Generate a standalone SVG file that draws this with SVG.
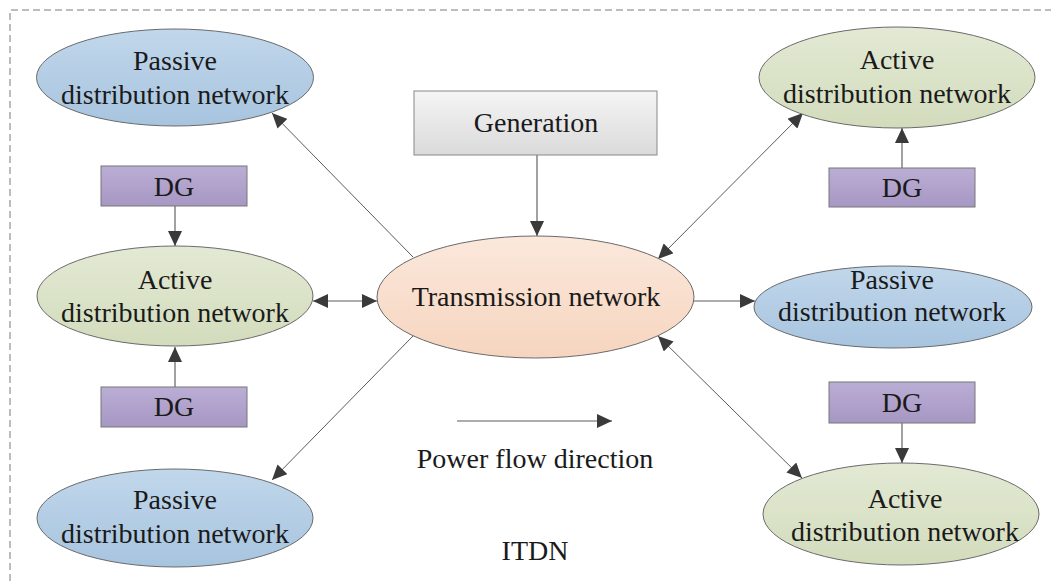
<svg xmlns="http://www.w3.org/2000/svg" width="1051" height="581" viewBox="0 0 1051 581">
<defs>
<linearGradient id="gPassive" x1="0" y1="0" x2="0" y2="1"><stop offset="0" stop-color="#c1d7eb"/><stop offset="1" stop-color="#a7c4df"/></linearGradient>
<linearGradient id="gActive" x1="0" y1="0" x2="0" y2="1"><stop offset="0" stop-color="#e3e9d4"/><stop offset="1" stop-color="#d2dcbc"/></linearGradient>
<linearGradient id="gTrans" x1="0" y1="0" x2="0" y2="1"><stop offset="0" stop-color="#fbe8dc"/><stop offset="1" stop-color="#f6d5bf"/></linearGradient>
<linearGradient id="gDG" x1="0" y1="0" x2="0" y2="1"><stop offset="0" stop-color="#bbaed5"/><stop offset="1" stop-color="#a697c3"/></linearGradient>
<linearGradient id="gGen" x1="0" y1="0" x2="0" y2="1"><stop offset="0" stop-color="#f5f5f5"/><stop offset="1" stop-color="#dadada"/></linearGradient>
<marker id="ah" markerUnits="userSpaceOnUse" markerWidth="15" markerHeight="14" refX="15" refY="7" orient="auto-start-reverse" viewBox="0 0 15 14">
<path d="M0,0 L15,7 L0,14 z" fill="#3a3a3a"/>
</marker>
</defs>
<style>
text{font-family:"Liberation Serif","Times New Roman",serif;font-size:28px;fill:#1a1a1a;text-anchor:middle}
.shape{stroke:#6a6a6a;stroke-width:1}
.passive{fill:url(#gPassive)}
.active{fill:url(#gActive)}
.trans{fill:url(#gTrans)}
.dg{fill:url(#gDG);stroke:#777}
.gen{fill:url(#gGen);stroke:#888}
.c{stroke:#5a5a5a;stroke-width:1;fill:none}
.v{stroke:#8a8a8a;stroke-width:1.6;fill:none}
.border{stroke:#7a7a7a;stroke-width:1;stroke-dasharray:7 4;fill:none}
</style>
<rect width="1051" height="581" fill="#ffffff"/>
<path class="border" d="M10,581 V10 H1051"/>

<g id="connectors">
<line class="c" x1="413" y1="257" x2="272" y2="113" marker-end="url(#ah)"/>
<line class="c" x1="313" y1="301" x2="377" y2="301" marker-start="url(#ah)" marker-end="url(#ah)"/>
<line class="c" x1="413" y1="336" x2="272" y2="480" marker-end="url(#ah)"/>
<line class="c" x1="658" y1="259" x2="803" y2="113" marker-start="url(#ah)" marker-end="url(#ah)"/>
<line class="c" x1="694" y1="301" x2="755" y2="301" marker-end="url(#ah)"/>
<line class="c" x1="658" y1="336" x2="802" y2="478" marker-start="url(#ah)" marker-end="url(#ah)"/>
<line class="v" x1="537" y1="155" x2="537" y2="236" marker-end="url(#ah)"/>
<line class="v" x1="175" y1="206" x2="175" y2="246" marker-end="url(#ah)"/>
<line class="v" x1="175" y1="387" x2="175" y2="347" marker-end="url(#ah)"/>
<line class="v" x1="902" y1="168" x2="902" y2="128" marker-end="url(#ah)"/>
<line class="v" x1="902" y1="423" x2="902" y2="463" marker-end="url(#ah)"/>
<line class="c" x1="457" y1="421" x2="612" y2="421" marker-end="url(#ah)"/>
</g>

<g id="generation">
<rect class="gen" x="414" y="91" width="243" height="64"/>
<text x="536" y="132">Generation</text>
</g>

<g id="transmission">
<ellipse class="shape trans" cx="535.5" cy="297" rx="158.5" ry="61"/>
<text x="536" y="306">Transmission network</text>
</g>

<g id="passive-top-left">
<ellipse class="shape passive" cx="175" cy="77.5" rx="138.5" ry="48.5"/>
<text x="175" y="70">Passive</text>
<text x="175" y="104">distribution network</text>
</g>

<g id="dg-left-top">
<rect class="dg" x="101" y="166" width="146" height="40"/>
<text x="174" y="196">DG</text>
</g>

<g id="active-left">
<ellipse class="shape active" cx="175" cy="296" rx="138" ry="50"/>
<text x="175" y="289">Active</text>
<text x="175" y="322">distribution network</text>
</g>

<g id="dg-left-bottom">
<rect class="dg" x="101" y="387" width="146" height="40"/>
<text x="174" y="416">DG</text>
</g>

<g id="passive-bottom-left">
<ellipse class="shape passive" cx="175" cy="518" rx="138" ry="49"/>
<text x="175" y="509">Passive</text>
<text x="175" y="543">distribution network</text>
</g>

<g id="active-top-right">
<ellipse class="shape active" cx="897" cy="77.5" rx="138" ry="50.5"/>
<text x="897" y="69">Active</text>
<text x="897" y="103">distribution network</text>
</g>

<g id="dg-right-top">
<rect class="dg" x="829" y="168" width="146" height="39"/>
<text x="902" y="197">DG</text>
</g>

<g id="passive-right">
<ellipse class="shape passive" cx="893" cy="307" rx="139" ry="41"/>
<text x="892" y="289">Passive</text>
<text x="892" y="321">distribution network</text>
</g>

<g id="dg-right-bottom">
<rect class="dg" x="829" y="382" width="146" height="41"/>
<text x="902" y="412">DG</text>
</g>

<g id="active-bottom-right">
<ellipse class="shape active" cx="901" cy="514" rx="138" ry="51"/>
<text x="905" y="508">Active</text>
<text x="905" y="541">distribution network</text>
</g>

<g id="legend">
<text x="535" y="468">Power flow direction</text>
<text x="535" y="560">ITDN</text>
</g>
</svg>
